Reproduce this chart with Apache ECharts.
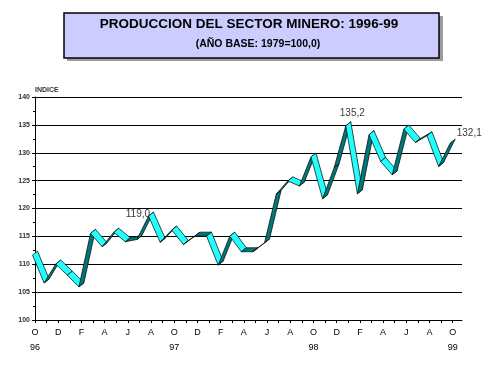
<!DOCTYPE html>
<html>
<head>
<meta charset="utf-8">
<script src="https://cdn.jsdelivr.net/npm/echarts@6/dist/echarts.min.js"></script>
<style>html,body{margin:0;padding:0;background:#fff}#c{width:504px;height:378px}</style>
</head>
<body>
<div id="c"></div>
<script>
// Months Oct 1996 .. Oct 1999
var monthLetters = ['O','N','D','E','F','M','A','M','J','J','A','S','O','N','D','E','F','M','A','M','J','J','A','S','O','N','D','E','F','M','A','M','J','J','A','S','O'];
var yearLabels = {0:'96', 12:'97', 24:'98', 36:'99'};
var values = [112.0, 107.0, 110.4, 108.4, 106.3, 115.9, 113.5, 116.1, 114.4, 114.8,
              119.0, 114.3, 116.5, 113.9, 115.4, 115.4, 110.2, 115.4, 112.6, 112.6,
              114.2, 122.9, 125.3, 124.4, 129.6, 122.1, 127.7, 135.2, 123.0, 133.6,
              128.8, 126.4, 134.6, 132.2, 133.4, 127.9, 132.1];
var labelledIdx = [10, 27, 36];
var yTicks = [100, 105, 110, 115, 120, 125, 130, 135, 140];
var titleText = 'PRODUCCION DEL SECTOR MINERO: 1996-99';
var subtitleText = '(AÑO BASE: 1979=100,0)';
var yName = 'INDICE';

var chart = echarts.init(document.getElementById('c'), null, {renderer: 'canvas'});

var tickIdx = values.map(function (v, i) { return i; });
var labIdx = tickIdx.filter(function (i) { return i % 2 === 0; });

var segs = [];
for (var i = 0; i < values.length - 1; i++) {
  segs.push([i, values[i], i + 1, values[i + 1]]);
}
var labelStyles = {
  10: {position: 'left', distance: 1, offset: [0, 0]},
  27: {position: 'top', distance: 6, offset: [4, 0]},
  36: {position: 'right', distance: 4, offset: [0, -8]}
};
var labelData = labelledIdx.map(function (i) {
  return {value: [i, values[i]], label: labelStyles[i]};
});

var DX = 2.5, DY = 2;

chart.setOption({
  animation: false,
  textStyle: {fontFamily: 'Liberation Sans, Arial, sans-serif'},
  grid: {left: 35, right: 42, top: 97, bottom: 58},
  graphic: [
    {type: 'rect', shape: {x: 67, y: 16, width: 376, height: 45}, style: {fill: '#9c9c9c'}, z: 1},
    {type: 'rect', shape: {x: 64, y: 13, width: 375, height: 45}, style: {fill: '#ccccff', stroke: '#000', lineWidth: 1.5}, z: 2},
    {type: 'text', x: 249, y: 24, style: {text: titleText, font: 'bold 13.5px "Liberation Sans", Arial, sans-serif', fill: '#000', align: 'center', verticalAlign: 'middle'}, z: 3},
    {type: 'text', x: 258, y: 44, style: {text: subtitleText, font: 'bold 10.5px "Liberation Sans", Arial, sans-serif', fill: '#000', align: 'center', verticalAlign: 'middle'}, z: 3}
  ],
  xAxis: {
    type: 'value', min: 0, max: 36.8,
    axisLine: {show: true, onZero: false, lineStyle: {color: '#000', width: 1}},
    axisTick: {show: true, inside: false, length: 3, customValues: tickIdx, lineStyle: {color: '#000'}},
    axisLabel: {
      customValues: labIdx, fontSize: 9, color: '#000', margin: 5, lineHeight: 15,
      formatter: function (v) {
        var i = Math.round(v);
        return monthLetters[i] + (yearLabels[i] ? '\n' + yearLabels[i] : '');
      }
    },
    splitLine: {show: false}
  },
  yAxis: {
    type: 'value', min: yTicks[0], max: yTicks[yTicks.length - 1], interval: 5,
    name: yName, nameLocation: 'end', nameGap: 3,
    nameTextStyle: {fontSize: 7, fontWeight: 'bold', color: '#333', align: 'left', verticalAlign: 'bottom', padding: [0, 0, 0, 0]},
    axisLine: {show: true, lineStyle: {color: '#000', width: 1}},
    axisTick: {show: true, length: 3, lineStyle: {color: '#000'}},
    minorTick: {show: true, splitNumber: 2, length: 2, lineStyle: {color: '#000'}},
    axisLabel: {fontSize: 7, fontWeight: 'bold', color: '#333', margin: 5},
    splitLine: {show: true, lineStyle: {color: '#000', width: 1}}
  },
  series: [
    {
      type: 'custom',
      data: segs,
      encode: {x: [0, 2], y: [1, 3]},
      renderItem: function (params, api) {
        var p = api.coord([api.value(0), api.value(1)]);
        var q = api.coord([api.value(2), api.value(3)]);
        var desc = api.value(3) < api.value(1);
        return {
          type: 'polygon',
          shape: {points: [
            [p[0] - DX, p[1] + DY], [q[0] - DX, q[1] + DY],
            [q[0] + DX, q[1] - DY], [p[0] + DX, p[1] - DY]
          ]},
          style: {fill: desc ? '#22ffff' : '#007878', stroke: '#000', lineWidth: 0.7}
        };
      },
      z: 5
    },
    {
      type: 'scatter',
      symbolSize: 0,
      data: labelData,
      label: {
        show: true, color: '#000', fontSize: 10,
        formatter: function (p) { return p.value[1].toFixed(1).replace('.', ','); }
      },
      z: 6
    }
  ]
});
</script>
</body>
</html>
